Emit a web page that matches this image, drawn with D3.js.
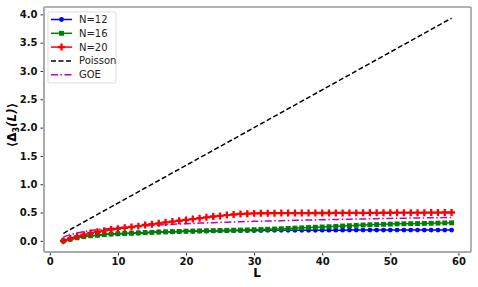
<!DOCTYPE html>
<html>
<head>
<meta charset="utf-8">
<script src="https://cdn.jsdelivr.net/npm/d3@7"></script>
<style>
  body { margin: 0; background: #fff; }
  text { font-family: "DejaVu Sans", sans-serif; }
</style>
</head>
<body>
<script>
// L values 2..59
const L = [2,3,4,5,6,7,8,9,10,11,12,13,14,15,16,17,18,19,20,21,22,23,24,25,26,27,28,29,30,
  31,32,33,34,35,36,37,38,39,40,41,42,43,44,45,46,47,48,49,50,51,52,53,54,55,56,57,58,59];

const n12 = [0.0,0.03,0.055,0.075,0.09,0.10,0.11,0.12,0.125,0.13,0.135,0.14,0.145,0.15,0.155,0.158,0.162,0.165,0.168,0.170,
  0.172,0.174,0.176,0.178,0.179,0.180,0.181,0.182,0.183,0.184,0.185,0.186,0.186,0.187,0.187,0.188,0.188,0.188,0.189,0.189,
  0.189,0.189,0.190,0.190,0.190,0.190,0.190,0.190,0.190,0.190,0.190,0.190,0.190,0.190,0.190,0.190,0.190,0.190];

const n16 = [0.0,0.03,0.055,0.075,0.09,0.10,0.11,0.12,0.125,0.13,0.135,0.14,0.145,0.15,0.155,0.158,0.162,0.165,0.17,0.172,
  0.175,0.178,0.18,0.183,0.185,0.188,0.19,0.193,0.197,0.20,0.204,0.209,0.214,0.219,0.225,0.23,0.235,0.24,0.245,0.25,
  0.256,0.262,0.268,0.274,0.28,0.284,0.288,0.292,0.296,0.30,0.302,0.304,0.306,0.308,0.31,0.313,0.316,0.318];

const n20 = [0.0,0.04,0.08,0.11,0.14,0.16,0.18,0.20,0.215,0.23,0.245,0.26,0.28,0.295,0.31,0.325,0.34,0.355,0.37,0.385,
  0.40,0.415,0.43,0.44,0.455,0.465,0.475,0.48,0.485,0.487,0.488,0.489,0.49,0.49,0.49,0.491,0.491,0.492,0.492,0.492,
  0.493,0.493,0.494,0.494,0.495,0.495,0.495,0.496,0.496,0.497,0.497,0.497,0.498,0.498,0.499,0.499,0.5,0.5];

const goe = [0.07,0.111,0.14,0.163,0.181,0.197,0.21,0.222,0.233,0.242,0.251,0.259,0.267,0.274,0.28,0.287,0.292,0.298,0.303,0.308,
  0.313,0.317,0.321,0.326,0.33,0.333,0.337,0.341,0.344,0.347,0.35,0.353,0.357,0.36,0.362,0.365,0.368,0.37,0.373,0.375,
  0.378,0.38,0.383,0.385,0.387,0.389,0.392,0.394,0.396,0.398,0.4,0.402,0.404,0.405,0.407,0.409,0.411,0.413];

const poisson = [0.133,3.933]; // straight line at L=2 and L=59
const poissonL = [2, 59];

const xTicks = [0,10,20,30,40,50,60];
const yTicks = [0,0.5,1,1.5,2,2.5,3,3.5,4];

const width = 478, height = 287;
const margin = { top: 7, right: 7, bottom: 35, left: 44 };

const svg = d3.select("body").append("svg")
  .attr("width", width)
  .attr("height", height);

const x = d3.scaleLinear()
  .domain([-0.85, 61.85])
  .range([margin.left, width - margin.right]);

const y = d3.scaleLinear()
  .domain([-0.197, 4.13])
  .range([height - margin.bottom, margin.top]);

// axes
const xAxis = svg.append("g")
  .attr("transform", `translate(0,${height - margin.bottom})`)
  .call(d3.axisBottom(x).tickValues(xTicks).tickFormat(d3.format("d")).tickSize(3.5).tickPadding(2).tickSizeOuter(0));
const yAxis = svg.append("g")
  .attr("transform", `translate(${margin.left},0)`)
  .call(d3.axisLeft(y).tickValues(yTicks).tickFormat(d3.format(".1f")).tickSize(3.5).tickPadding(3).tickSizeOuter(0));

[xAxis, yAxis].forEach(a => {
  a.select(".domain").remove();
  a.selectAll("line").attr("stroke", "#333");
  a.selectAll("text")
    .attr("font-size", 10)
    .attr("font-weight", "bold")
    .attr("fill", "#111");
});

// spines
const x0 = margin.left, x1 = width - margin.right;
const y0 = margin.top, y1 = height - margin.bottom;
svg.append("line").attr("x1", x0).attr("x2", x1).attr("y1", y0).attr("y2", y0).attr("stroke", "#666").attr("stroke-width", 1);
svg.append("line").attr("x1", x1).attr("x2", x1).attr("y1", y0).attr("y2", y1).attr("stroke", "#999").attr("stroke-width", 1.5);
svg.append("line").attr("x1", x0).attr("x2", x0).attr("y1", y0).attr("y2", y1).attr("stroke", "#aaa").attr("stroke-width", 2);
svg.append("line").attr("x1", x0).attr("x2", x1).attr("y1", y1).attr("y2", y1).attr("stroke", "#aaa").attr("stroke-width", 2);

const line = d3.line()
  .x(d => x(d[0]))
  .y(d => y(d[1]));

// Poisson
svg.append("path")
  .attr("d", line(poissonL.map((l, i) => [l, poisson[i]])))
  .attr("fill", "none")
  .attr("stroke", "#000")
  .attr("stroke-width", 1.5)
  .attr("stroke-dasharray", "5,2.5");

// GOE
svg.append("path")
  .attr("d", line(L.map((l, i) => [l, goe[i]])))
  .attr("fill", "none")
  .attr("stroke", "#bf00bf")
  .attr("stroke-width", 1.5)
  .attr("stroke-dasharray", "7,2.5,1.5,2.5");

const series = [
  { name: "N=12", vals: n12, color: "#0000ff", sym: d3.symbolCircle, size: 19 },
  { name: "N=16", vals: n16, color: "#008000", sym: d3.symbolSquare, size: 24 },
  { name: "N=20", vals: n20, color: "#ff0000", sym: d3.symbolCross, size: 27 }
];

series.forEach(s => {
  const pts = L.map((l, i) => [l, s.vals[i]]);
  svg.append("path")
    .attr("d", line(pts))
    .attr("fill", "none")
    .attr("stroke", s.color)
    .attr("stroke-width", 1.5);
  svg.append("g")
    .selectAll("path")
    .data(pts)
    .join("path")
    .attr("transform", d => `translate(${x(d[0])},${y(d[1])})`)
    .attr("d", d3.symbol().type(s.sym).size(s.size))
    .attr("fill", s.color);
});

// axis labels
svg.append("text")
  .attr("x", 257)
  .attr("y", 277)
  .attr("text-anchor", "middle")
  .attr("font-size", 12)
  .attr("font-weight", "bold")
  .text("L");

const yl = svg.append("text")
  .attr("transform", `translate(16,125) rotate(-90)`)
  .attr("text-anchor", "middle")
  .attr("font-size", 12)
  .attr("font-weight", "bold");
yl.append("tspan").text("⟨Δ");
yl.append("tspan").attr("font-size", 8).attr("dy", 3).text("3");
yl.append("tspan").attr("dy", -3).attr("font-style", "italic").text("(L)");
yl.append("tspan").text("⟩");

// legend
const legend = svg.append("g").attr("transform", "translate(48,12)");
legend.append("rect")
  .attr("width", 68).attr("height", 71).attr("rx", 2)
  .attr("fill", "#fff").attr("fill-opacity", 0.8)
  .attr("stroke", "#ddd");

const items = [
  { name: "N=12", color: "#0000ff", dash: null, sym: d3.symbolCircle, size: 19 },
  { name: "N=16", color: "#008000", dash: null, sym: d3.symbolSquare, size: 24 },
  { name: "N=20", color: "#ff0000", dash: null, sym: d3.symbolCross, size: 27 },
  { name: "Poisson", color: "#000", dash: "5,2.5", sym: null },
  { name: "GOE", color: "#bf00bf", dash: "7,2.5,1.5,2.5", sym: null }
];

items.forEach((it, i) => {
  const g = legend.append("g").attr("transform", `translate(0,${7.5 + i * 13.8})`);
  g.append("line")
    .attr("x1", 3).attr("x2", 24)
    .attr("stroke", it.color).attr("stroke-width", 1.5)
    .attr("stroke-dasharray", it.dash);
  if (it.sym) {
    g.append("path")
      .attr("transform", "translate(13.5,0)")
      .attr("d", d3.symbol().type(it.sym).size(it.size))
      .attr("fill", it.color);
  }
  g.append("text")
    .attr("x", 31).attr("dy", "0.35em")
    .attr("font-size", 10)
    .attr("fill", "#222")
    .text(it.name);
});
</script>
</body>
</html>
